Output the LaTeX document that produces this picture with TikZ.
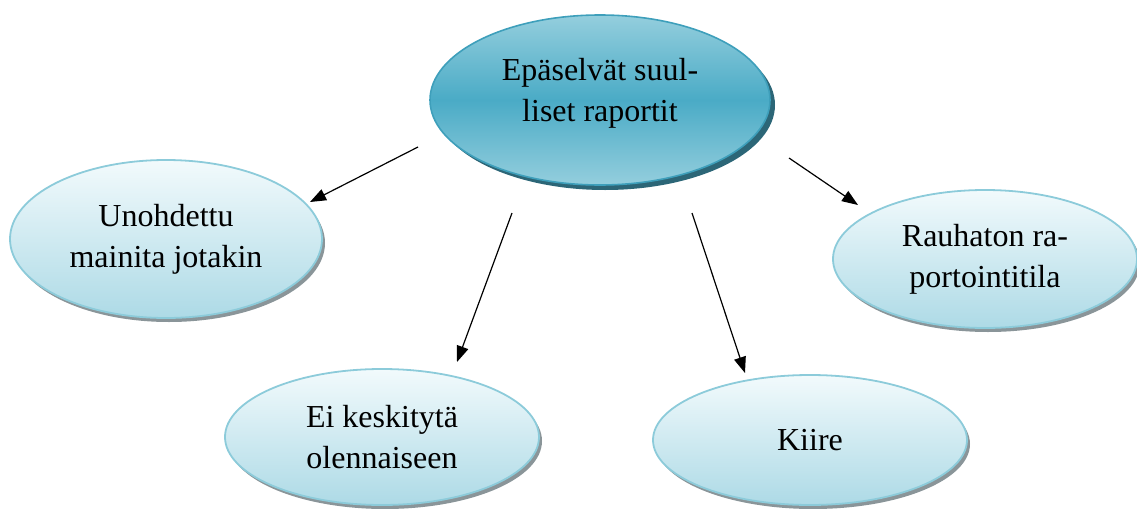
\documentclass[tikz,border=0pt]{standalone}
\usepackage{fontspec}
\setmainfont{Liberation Serif}
\usetikzlibrary{shapes.geometric,arrows.meta,shadows}
\definecolor{mainmid}{HTML}{4AABC6}
\definecolor{mainlt}{HTML}{94CEDD}
\definecolor{mainbd}{HTML}{3E9FBB}
\definecolor{mainsh}{HTML}{2C6677}
\definecolor{subtop}{HTML}{F2FAFC}
\definecolor{subbot}{HTML}{ADDAE6}
\definecolor{subbd}{HTML}{8CCBDA}
\definecolor{subsh}{HTML}{8A9599}
\tikzset{
  mainell/.style={ellipse, draw=mainbd, line width=0.8pt,
    top color=mainlt, bottom color=mainlt, middle color=mainmid,
    drop shadow={shadow xshift=2.5pt, shadow yshift=-2.5pt, fill=mainsh, opacity=1},
    align=center, font=\fontsize{16}{20.5}\selectfont, inner sep=0pt},
  subell/.style={ellipse, draw=subbd, line width=0.9pt,
    top color=subtop, bottom color=subbot,
    drop shadow={shadow xshift=1.5pt, shadow yshift=-2pt, fill=subsh, opacity=1},
    align=center, font=\fontsize{16}{20.5}\selectfont, inner sep=0pt},
  arr/.style={line width=0.6pt, -{Triangle[length=8pt,width=6pt]}}
}
\begin{document}
\begin{tikzpicture}[x=0.5pt,y=-0.5pt]
\useasboundingbox (0,0) rectangle (1137,509);
\node[mainell, minimum width=170pt, minimum height=85pt, text depth=10pt] (main) at (600,100) {Epäselvät suul-\\liset raportit};
\node[subell, minimum width=156pt, minimum height=79pt] (left) at (166,239) {Unohdettu\\mainita jotakin};
\node[subell, minimum width=157pt, minimum height=68pt] (bl) at (382,437) {Ei keskitytä\\olennaiseen};
\node[subell, minimum width=157pt, minimum height=65pt] (br) at (810,440) {Kiire};
\node[subell, minimum width=152pt, minimum height=69pt] (right) at (985,259) {Rauhaton ra-\\portointitila};
\coordinate (s1) at (418,147); \coordinate (e1) at (310,202);
\coordinate (s2) at (512,213); \coordinate (e2) at (457,362);
\coordinate (s3) at (692,213); \coordinate (e3) at (745,373);
\coordinate (s4) at (789,158); \coordinate (e4) at (858,205);
\draw[arr] (s1) -- (e1);
\draw[arr] (s2) -- (e2);
\draw[arr] (s3) -- (e3);
\draw[arr] (s4) -- (e4);
\end{tikzpicture}
\end{document}
